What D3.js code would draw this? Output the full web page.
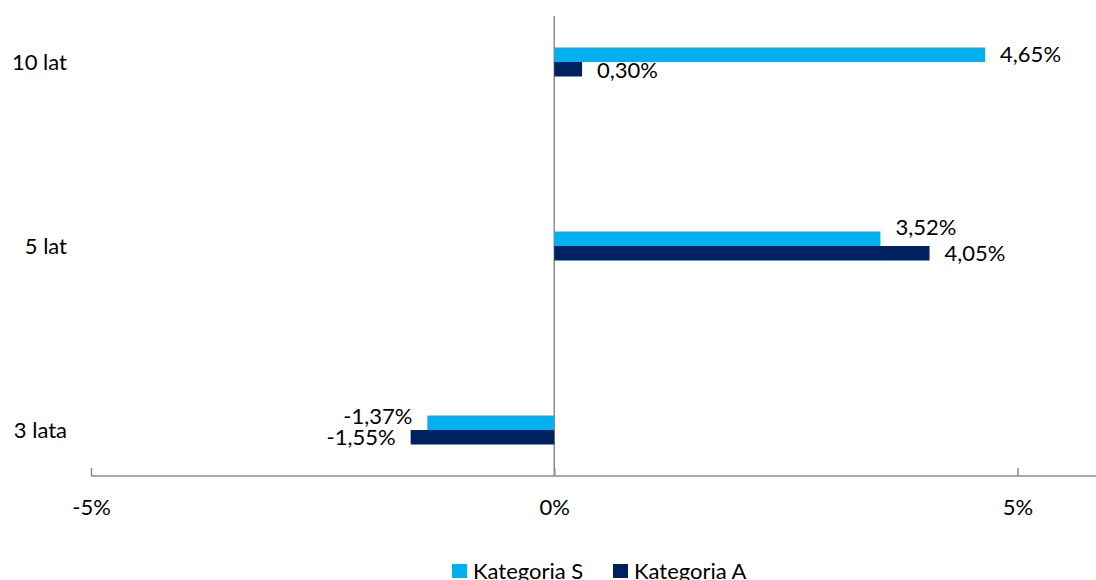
<!DOCTYPE html>
<html>
<head>
<meta charset="utf-8">
<script src="https://cdn.jsdelivr.net/npm/d3@7"></script>
<style>
  html, body { margin: 0; padding: 0; background: #fff; }
  svg text { font-family: Lato, "Open Sans", sans-serif; fill: #000; }
</style>
</head>
<body>
<svg id="chart" width="1096" height="580"></svg>
<script>
// categories, top to bottom
var categories = ["10 lat", "5 lat", "3 lata"];
var seriesNames = ["Kategoria S", "Kategoria A"];
// values in %
var kategoriaS = [4.65, 3.52, -1.37];
var kategoriaA = [0.30, 4.05, -1.55];
var xTicks = [-5, 0, 5];

var colors = ["#00B0F0", "#002060"];
// small vertical nudges of the data labels (Excel moved them apart)
var labelNudge = { "Kategoria S": [0, -11, -6], "Kategoria A": [1, 0, 0] };

var svg = d3.select("#chart"),
    width = +svg.attr("width"),
    height = +svg.attr("height");

var x = d3.scaleLinear().domain([-5, 6]).range([91, 1110.2]);
var y = d3.scalePoint().domain(categories).range([62, 430]);
var barH = 14.5;
var axisY = 476;

var series = seriesNames.map(function(name, i) {
  var vals = i == 0 ? kategoriaS : kategoriaA;
  return {
    name: name,
    color: colors[i],
    values: categories.map(function(c, j) {
      return { cat: c, value: vals[j], idx: j, series: name, s: i };
    })
  };
});

// zero line
svg.append("line")
  .attr("x1", x(0)).attr("x2", x(0))
  .attr("y1", 16).attr("y2", axisY)
  .attr("stroke", "#8c8c8c")
  .attr("stroke-width", 1.5);

// bottom axis
var xAxis = d3.axisBottom(x)
  .tickValues(xTicks)
  .tickSize(0)
  .tickPadding(24)
  .tickFormat(function(d) { return d + "%"; });

var gx = svg.append("g")
  .attr("transform", "translate(0," + axisY + ")")
  .call(xAxis);
gx.select(".domain").remove();
gx.append("line")
  .attr("x1", x(-5)).attr("x2", width)
  .attr("stroke", "#8c8c8c").attr("stroke-width", 1.5);
gx.selectAll(".tick line").remove();
gx.selectAll(".tick").append("line")
  .attr("y1", -8).attr("y2", 0)
  .attr("stroke", "#8c8c8c").attr("stroke-width", 1.5);
gx.selectAll(".tick text")
  .attr("font-size", 22)
  .attr("dy", "0.32em")
  .attr("y", 32)
  .style("font-family", "Lato, sans-serif")
  .attr("fill", "#000");

// category labels
svg.selectAll(".cat")
  .data(categories)
  .enter()
  .append("text")
  .attr("class", "cat")
  .attr("x", 67)
  .attr("y", function(d) { return y(d); })
  .attr("dy", "0.35em")
  .attr("text-anchor", "end")
  .attr("font-size", 22)
  .text(function(d) { return d; });

// bars
var groups = svg.selectAll(".series")
  .data(series)
  .enter()
  .append("g")
  .attr("class", "series")
  .attr("fill", function(d) { return d.color; });

groups.selectAll("rect")
  .data(function(d) { return d.values; })
  .enter()
  .append("rect")
  .attr("x", function(d) { return x(Math.min(0, d.value)); })
  .attr("width", function(d) { return Math.abs(x(d.value) - x(0)); })
  .attr("y", function(d) { return y(d.cat) - barH + d.s * barH; })
  .attr("height", barH);

// data labels
groups.selectAll(".lbl")
  .data(function(d) { return d.values; })
  .enter()
  .append("text")
  .attr("class", "lbl")
  .attr("font-size", 22)
  .attr("text-anchor", function(d) { return d.value < 0 ? "end" : "start"; })
  .attr("x", function(d) { return x(d.value) + (d.value < 0 ? -15 : 15); })
  .attr("y", function(d) {
    return y(d.cat) - barH / 2 + d.s * barH + labelNudge[d.series][d.idx];
  })
  .attr("dy", "0.35em")
  .style("fill", "#000")
  .text(function(d) { return d.value.toFixed(2).replace(".", ",") + "%"; });

// legend
var legend = svg.append("g").attr("class", "legend");
var lx = [452, 613];
var item = legend.selectAll("g")
  .data(series)
  .enter()
  .append("g")
  .attr("transform", function(d, i) { return "translate(" + lx[i] + ",564)"; });
item.append("rect")
  .attr("width", 15).attr("height", 14)
  .attr("fill", function(d) { return d.color; });
item.append("text")
  .attr("x", 21)
  .attr("y", 7)
  .attr("dy", "0.38em")
  .attr("font-size", 22)
  .text(function(d) { return d.name; });
</script>
</body>
</html>
